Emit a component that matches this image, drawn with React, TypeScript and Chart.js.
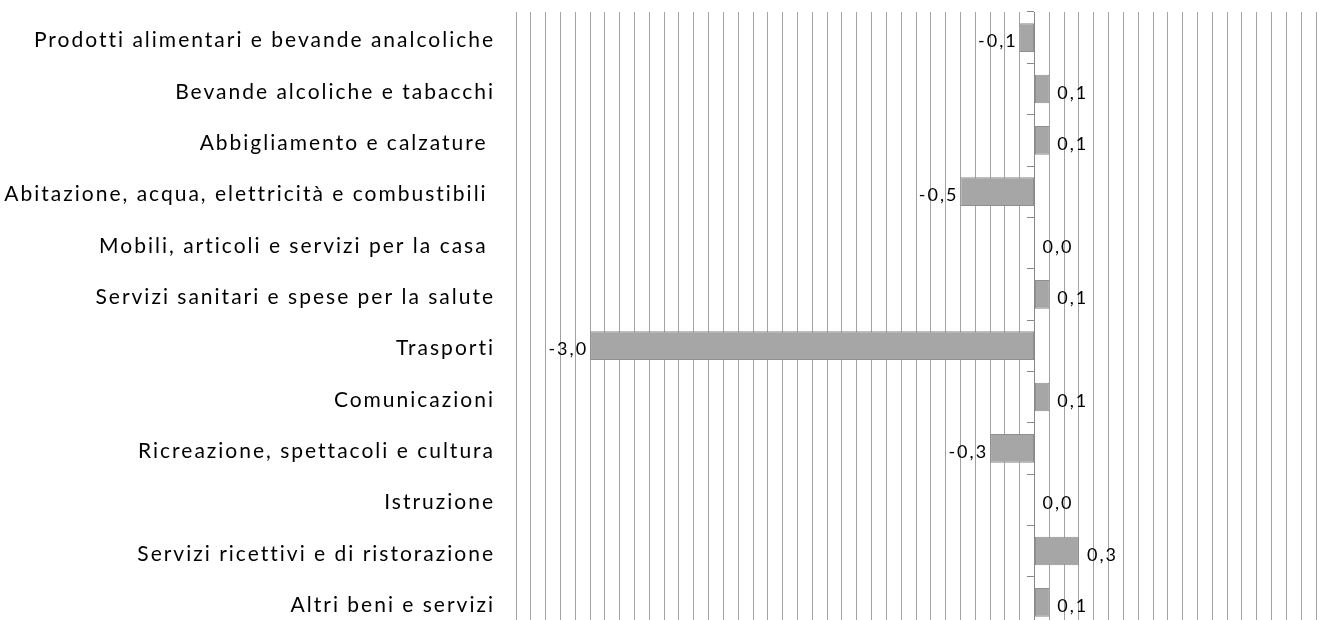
import React, { useEffect, useRef } from "react";
import { Chart, registerables } from "chart.js";

Chart.register(...registerables);

const categories = [
  "Prodotti alimentari e bevande analcoliche",
  "Bevande alcoliche e tabacchi",
  "Abbigliamento e calzature ",
  "Abitazione, acqua, elettricità e combustibili ",
  "Mobili, articoli e servizi per la casa ",
  "Servizi sanitari e spese per la salute",
  "Trasporti",
  "Comunicazioni",
  "Ricreazione, spettacoli e cultura",
  "Istruzione",
  "Servizi ricettivi e di ristorazione",
  "Altri beni e servizi",
];

const values = [-0.1, 0.1, 0.1, -0.5, 0.0, 0.1, -3.0, 0.1, -0.3, 0.0, 0.3, 0.1];

const xMin = -3.5;
const xMax = 1.9;
const xStep = 0.1;

const FONT = "Lato, 'Open Sans', sans-serif";

const spacingPlugin = {
  id: "letterSpacing",
  beforeDraw(chart: any) {
    chart.ctx.save();
    (chart.ctx as any).letterSpacing = "2px";
  },
  afterDraw(chart: any) {
    chart.ctx.restore();
  },
};

const labelPlugin = {
  id: "valueLabels",
  afterDatasetsDraw(chart: any) {
    const ctx = chart.ctx;
    const meta = chart.getDatasetMeta(0);
    ctx.save();
    (ctx as any).letterSpacing = "2px";
    ctx.font = `18px ${FONT}`;
    ctx.fillStyle = "#000";
    ctx.textBaseline = "middle";
    meta.data.forEach((el: any, i: number) => {
      const v = values[i];
      const txt = v.toFixed(1).replace(".", ",");
      if (v < 0) {
        ctx.textAlign = "right";
        ctx.fillText(txt, el.x - 2, el.y + 4);
      } else {
        ctx.textAlign = "left";
        ctx.fillText(txt, el.x + 8, el.y + 4);
      }
    });
    ctx.restore();
  },
};

export default function App() {
  const ref = useRef<HTMLCanvasElement>(null);
  useEffect(() => {
    if (!ref.current) return;
    const chart = new Chart(ref.current, {
      type: "bar",
      data: {
        labels: categories,
        datasets: [
          {
            data: values,
            backgroundColor: "#a6a6a6",
            borderColor: "#8f8f8f",
            borderWidth: 1,
            borderSkipped: false,
            barPercentage: 0.56,
            categoryPercentage: 1,
          },
        ],
      },
      options: {
        indexAxis: "y",
        animation: false,
        responsive: true,
        maintainAspectRatio: false,
        layout: { padding: { top: 12, right: 5, bottom: 12, left: 0 } },
        plugins: {
          legend: { display: false },
          tooltip: { enabled: false },
          title: { display: false },
        },
        scales: {
          x: {
            type: "linear",
            min: xMin,
            max: xMax,
            ticks: { display: false, stepSize: xStep, maxTicksLimit: 200 },
            grid: { color: "#a3a3a3", lineWidth: 1, drawTicks: false },
            border: { display: false },
            afterBuildTicks: (scale: any) => {
              const n = Math.round((xMax - xMin) / xStep);
              const t: any[] = [];
              for (let i = 0; i <= n; i++) t.push({ value: Math.round((xMin + i * xStep) * 10) / 10 });
              scale.ticks = t;
            },
            afterFit: (scale: any) => {
              scale.height = 0;
              scale.paddingLeft = 0;
              scale.paddingRight = 0;
            },
          },
          y: {
            type: "category",
            position: "left",
            ticks: {
              color: "#000",
              font: { family: FONT, size: 21 },
              padding: 21,
              labelOffset: 3,
            },
            grid: { display: false, drawTicks: false },
            border: { display: false },
            afterFit: (scale: any) => {
              scale.width = 516;
              scale.paddingTop = 0;
              scale.paddingBottom = 0;
            },
          },
          y2: {
            type: "category",
            position: { x: 0 } as any,
            offset: true,
            ticks: { display: false },
            grid: {
              offset: true,
              drawOnChartArea: false,
              drawTicks: true,
              tickLength: 7,
              color: "#888",
            },
            border: { display: true, color: "#888", width: 1 },
            afterFit: (scale: any) => {
              scale.paddingTop = 0;
              scale.paddingBottom = 0;
            },
          },
        },
      } as any,
      plugins: [spacingPlugin, labelPlugin],
    });
    return () => chart.destroy();
  }, []);
  return (
    <div style={{ position: "absolute", left: 0, top: 0, width: 1321, height: 640 }}>
      <canvas ref={ref} />
    </div>
  );
}
